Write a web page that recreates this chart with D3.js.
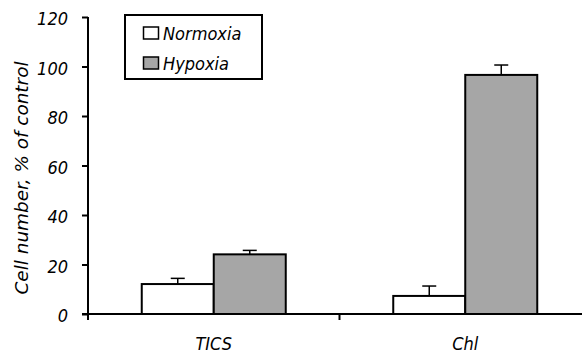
<!DOCTYPE html>
<html><head><meta charset="utf-8">
<script src="https://cdn.jsdelivr.net/npm/d3@7"></script>
<style>
body{margin:0;background:#fff;}
text{font-family:"DejaVu Sans Condensed","Liberation Sans Narrow",sans-serif;font-stretch:condensed;font-style:italic;}
</style></head><body>
<svg id="c" width="582" height="353"></svg>
<script>
const categories = ["TICS", "Chl"];
const seriesNames = ["Normoxia", "Hypoxia"];
const normoxia = [12.1, 7.3];
const hypoxia = [24.1, 96.6];
const normoxiaErr = [2.3, 4.0];
const hypoxiaErr = [1.6, 4.0];
const yTicks = [0, 20, 40, 60, 80, 100, 120];
const colors = ["#ffffff", "#a6a6a6"];

const FONT = "'DejaVu Sans Condensed','Liberation Sans Narrow',sans-serif";
const svg = d3.select("#c");
const x0 = 88, plotTop = 17, plotBottom = 314;
const bandW = 251.5;
const x = d3.scaleBand().domain(categories).range([x0, x0 + 2 * bandW]).paddingInner(0).paddingOuter(0);
const y = d3.scaleLinear().domain([0, 120]).range([plotBottom, plotTop]);
const barW = 72;

const data = categories.map((c, i) => [
  {cat: c, s: 0, v: normoxia[i], e: normoxiaErr[i]},
  {cat: c, s: 1, v: hypoxia[i], e: hypoxiaErr[i]}
]).flat();

const eg = svg.append("g");
data.forEach(d => {
  const cx = x(d.cat) + x.bandwidth() / 2 + (d.s === 0 ? -barW / 2 : barW / 2);
  eg.append("line").attr("x1", cx).attr("x2", cx).attr("y1", y(d.v)).attr("y2", y(d.v + d.e))
    .attr("stroke", "#000").attr("stroke-width", 1.5);
  eg.append("line").attr("x1", cx - 7).attr("x2", cx + 7).attr("y1", y(d.v + d.e)).attr("y2", y(d.v + d.e))
    .attr("stroke", "#000").attr("stroke-width", 1.5);
});

svg.append("g").selectAll("rect").data(data).join("rect")
  .attr("x", d => x(d.cat) + x.bandwidth() / 2 + (d.s === 0 ? -barW : 0))
  .attr("y", d => y(d.v))
  .attr("width", barW)
  .attr("height", d => y(0) - y(d.v))
  .attr("fill", d => colors[d.s])
  .attr("stroke", "#000").attr("stroke-width", 2);

// y axis
const ya = d3.axisLeft(y).tickValues(yTicks).tickSize(6).tickPadding(14).tickFormat(d3.format("d"));
const yg = svg.append("g").attr("transform", `translate(${x0},0)`).call(ya);
yg.select(".domain").attr("d", `M0,${plotTop}V${plotBottom + 6}`).attr("stroke-width", 2);
yg.selectAll(".tick line").attr("stroke-width", 2);
yg.selectAll(".tick text").attr("font-size", 18).attr("fill", "#000").attr("dy", "0.42em")
  .attr("font-family", FONT).attr("font-style", "italic");

// x axis
const xa = d3.axisBottom(x).tickSize(0).tickPadding(23);
const xg = svg.append("g").attr("transform", `translate(0,${plotBottom})`).call(xa);
xg.select(".domain").attr("d", `M${x0 - 6},0H582`).attr("stroke-width", 2);
xg.selectAll(".tick text").attr("font-size", 18).attr("fill", "#000")
  .attr("font-family", FONT).attr("font-style", "italic");
xg.append("line").attr("x1", x0 + bandW).attr("x2", x0 + bandW).attr("y1", 0).attr("y2", 6)
  .attr("stroke", "#000").attr("stroke-width", 2);

// y label
svg.append("text").attr("transform", `translate(28,178) rotate(-90)`)
  .attr("text-anchor", "middle").attr("font-size", 18).attr("fill", "#000")
  .attr("textLength", 233).attr("lengthAdjust", "spacingAndGlyphs")
  .text("Cell number, % of control");

// legend
const lg = svg.append("g");
lg.append("rect").attr("x", 125).attr("y", 15).attr("width", 137).attr("height", 64)
  .attr("fill", "#fff").attr("stroke", "#000").attr("stroke-width", 2);
seriesNames.forEach((n, i) => {
  const yy = 27 + i * 30;
  lg.append("rect").attr("x", 143.5).attr("y", yy).attr("width", 15).attr("height", 12)
    .attr("fill", colors[i]).attr("stroke", "#000").attr("stroke-width", 1.5);
  lg.append("text").attr("x", 163).attr("y", yy + 12.5).attr("font-size", 18).attr("fill", "#000").text(n);
});
</script>
</body></html>
